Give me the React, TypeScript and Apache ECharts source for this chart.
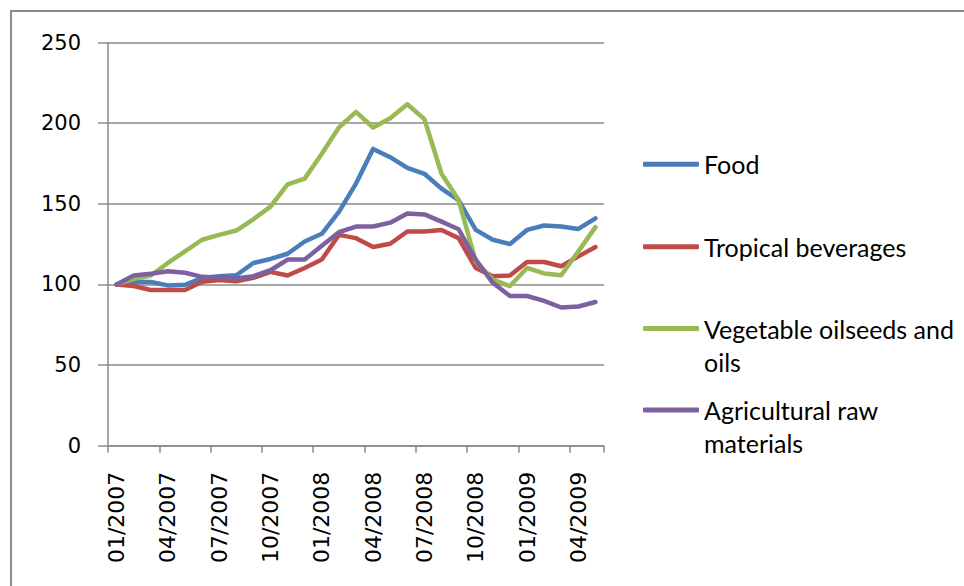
import React, { useEffect, useRef } from "react";
import * as echarts from "echarts";

const categories = [
  "01/2007", "02/2007", "03/2007", "04/2007", "05/2007", "06/2007", "07/2007", "08/2007", "09/2007",
  "10/2007", "11/2007", "12/2007", "01/2008", "02/2008", "03/2008", "04/2008", "05/2008", "06/2008",
  "07/2008", "08/2008", "09/2008", "10/2008", "11/2008", "12/2008", "01/2009", "02/2009", "03/2009",
  "04/2009", "05/2009",
];

const food = [100, 101.6, 101.5, 99.4, 99.8, 104, 105, 105.7, 113.3, 115.8, 119, 126.6, 131.4, 145, 162.5, 184, 178.9, 172.3, 168.6, 159.4, 152.3, 133.8, 127.7, 125, 133.8, 136.5, 135.9, 134.4, 141];
const beverages = [100, 99, 96.5, 96.5, 96.5, 101.6, 102.7, 102, 104.1, 107.8, 105.5, 110.2, 115.4, 130.7, 128.7, 123.2, 125.2, 132.8, 132.8, 133.8, 128.7, 110.2, 105.1, 105.5, 113.9, 113.9, 111.3, 117.4, 123.2];
const oils = [100, 103.5, 105.5, 113.3, 120.5, 127.7, 130.7, 133.4, 140.4, 148.2, 162.1, 165.6, 181, 197.3, 207, 197.3, 203, 211.7, 202.5, 168.6, 152.3, 114.3, 103, 99, 110.2, 106.8, 105.7, 120.5, 135.5];
const rawMaterials = [100, 105.5, 106.6, 108.2, 107.2, 104.7, 104.1, 103.7, 105.1, 108.8, 115.4, 115.4, 124, 132.4, 135.9, 135.9, 138.3, 144, 143.4, 138.9, 134.2, 115.4, 101, 92.8, 92.8, 89.8, 85.7, 86.3, 89.1];

const seriesNames = ["Food", "Tropical beverages", "Vegetable oilseeds and oils", "Agricultural raw materials"];
const legendLabels = ["Food", "Tropical beverages", " \nVegetable oilseeds and\noils", " \nAgricultural raw\nmaterials"];
const seriesData = [food, beverages, oils, rawMaterials];
const colors = ["#4A7EBB", "#BE4B48", "#98B954", "#7D60A0"];

const yTicks = { min: 0, max: 250, interval: 50 };

export default function App() {
  const ref = useRef<HTMLDivElement>(null);

  useEffect(() => {
    if (!ref.current) return;
    const chart = echarts.init(ref.current, null, { renderer: "svg" });
    const gridColor = "#8a8a8a";
    const legendFont = "Lato";
    const lineH = 33;
    const legendTops = [147.8, 230.3, 279, 360.5];

    chart.setOption({
      animation: false,
      backgroundColor: "#ffffff",
      graphic: [
        {
          type: "rect",
          shape: { x: 11, y: 11, width: 1000, height: 1000 },
          style: { fill: "none", stroke: "#8c8c8c", lineWidth: 2 },
          silent: true,
        },
      ],
      grid: { left: 108, right: 360, top: 42.5, bottom: 140.3, containLabel: false },
      xAxis: {
        type: "category",
        data: categories,
        boundaryGap: true,
        axisLine: { show: true, lineStyle: { color: gridColor, width: 1.5 } },
        axisTick: { show: true, interval: 2, length: 7, lineStyle: { color: gridColor, width: 1.5 } },
        axisLabel: {
          interval: 2,
          rotate: 90,
          margin: 26,
          color: "#000",
          fontFamily: "DejaVu Sans",
          fontSize: 22,
        },
        splitLine: { show: false },
      },
      yAxis: {
        type: "value",
        min: yTicks.min,
        max: yTicks.max,
        interval: yTicks.interval,
        axisLine: { show: true, lineStyle: { color: gridColor, width: 1.5 } },
        axisTick: { show: true, length: 10, lineStyle: { color: gridColor, width: 1.5 } },
        axisLabel: {
          margin: 27,
          color: "#000",
          fontFamily: "DejaVu Sans",
          fontSize: 21,
        },
        splitLine: { show: true, lineStyle: { color: gridColor, width: 1.5 } },
      },
      legend: seriesNames.map((name, i) => ({
        orient: "vertical",
        left: 643,
        top: legendTops[i],
        padding: 0,
        itemWidth: 56,
        itemHeight: 5,
        icon: "roundRect",
        data: [name],
        formatter: () => legendLabels[i],
        selectedMode: false,
        textStyle: {
          color: "#000",
          fontFamily: legendFont,
          fontSize: 25,
          lineHeight: lineH,
        },
      })),
      series: seriesNames.map((name, i) => ({
        name,
        type: "line",
        data: seriesData[i],
        showSymbol: false,
        symbol: "none",
        smooth: false,
        lineStyle: { color: colors[i], width: 4.5, cap: "round", join: "round" },
        itemStyle: { color: colors[i] },
      })),
    });

    return () => chart.dispose();
  }, []);

  return (
    <div
      ref={ref}
      style={{ position: "absolute", left: 0, top: 0, width: 964, height: 586, background: "#fff" }}
    />
  );
}
